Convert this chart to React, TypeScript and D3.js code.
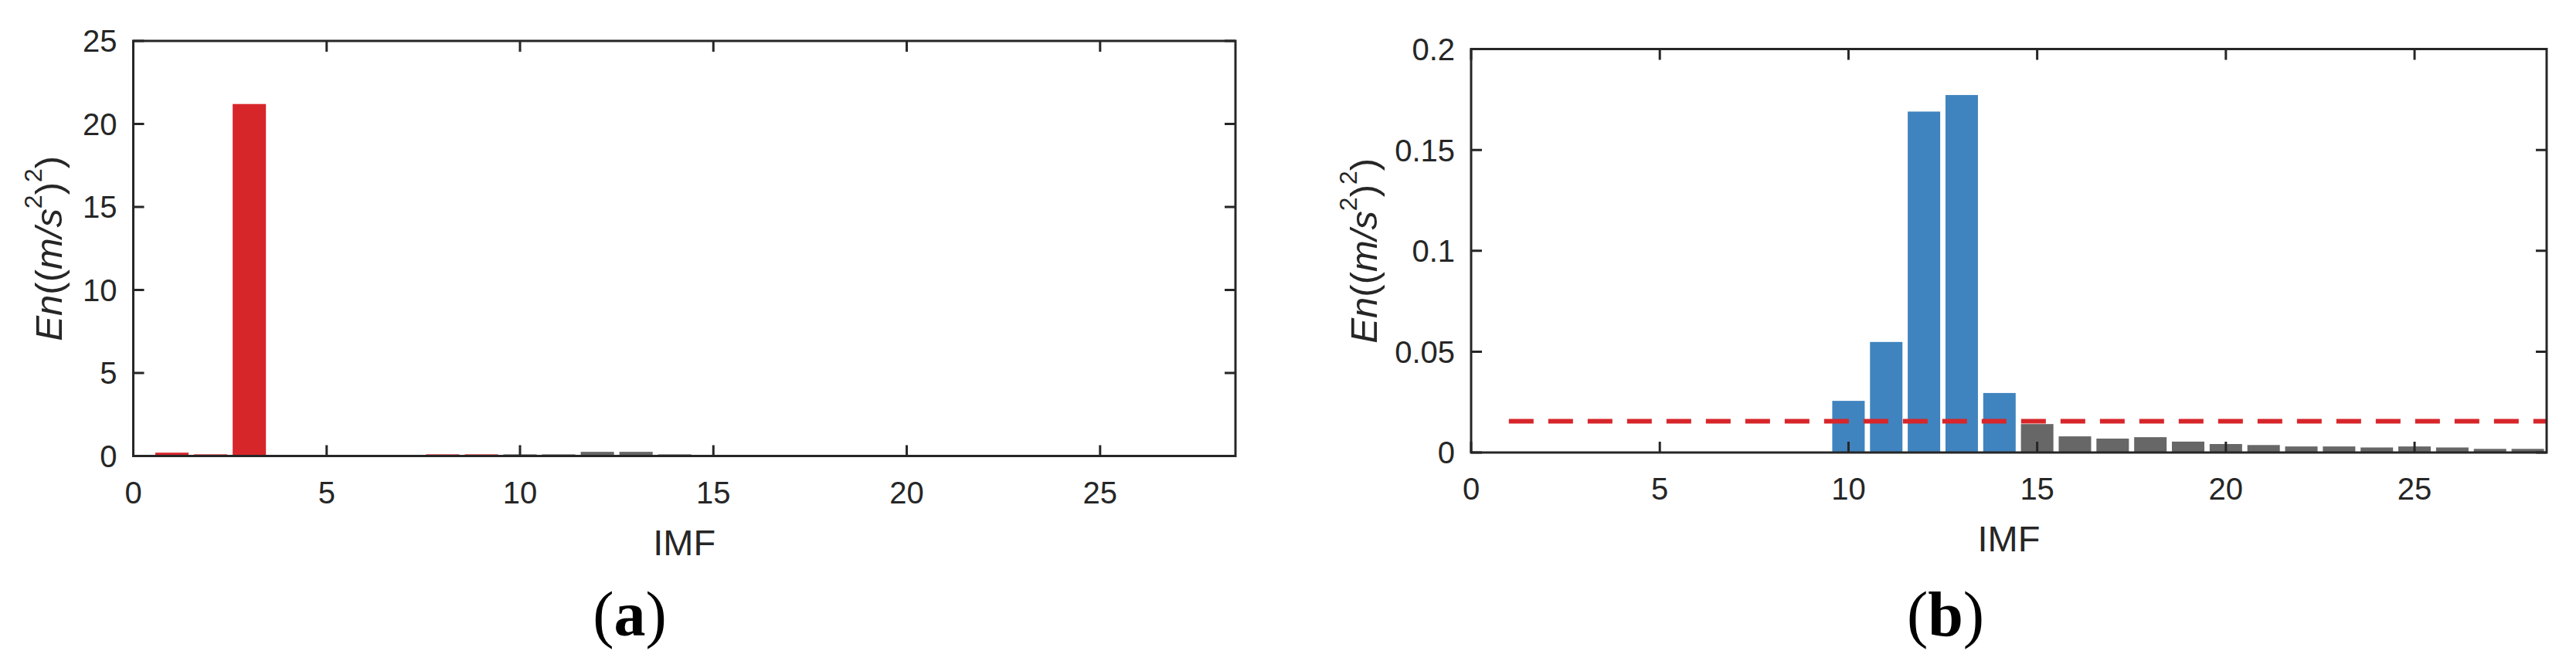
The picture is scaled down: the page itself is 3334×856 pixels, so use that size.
import React, { useEffect, useRef } from "react";
import * as d3 from "d3";

// IMF index 1..28
const imfs = [1, 2, 3, 4, 5, 6, 7, 8, 9, 10, 11, 12, 13, 14, 15, 16, 17, 18, 19, 20, 21, 22, 23, 24, 25, 26, 27, 28];

// panel (a) energy
const energyA = [0.2, 0.1, 21.2, 0, 0, 0, 0, 0.1, 0.1, 0.1, 0.1, 0.25, 0.25, 0.1, 0, 0, 0, 0, 0, 0, 0, 0, 0, 0, 0, 0, 0, 0];
const selectedA = [1, 2, 3, 4, 5, 6, 7, 8, 9];
const yTicksA = [0, 5, 10, 15, 20, 25];

// panel (b) energy
const energyB = [0, 0, 0, 0, 0, 0, 0, 0, 0, 0.0256, 0.0548, 0.169, 0.1772, 0.0295, 0.0141, 0.008, 0.0069, 0.0076, 0.0054, 0.0042, 0.0037, 0.003, 0.003, 0.0025, 0.003, 0.0025, 0.0018, 0.0018];
const selectedB = [10, 11, 12, 13, 14];
const yTicksB = [0, 0.05, 0.1, 0.15, 0.2];
const thresholdB = 0.0155;

const xTicks = [0, 5, 10, 15, 20, 25];

const INK = "#262626";
const GRAY = "#676767";
const SANS = "'Liberation Sans', Arial, Helvetica, sans-serif";

const App = () => {
  const chart = useRef<SVGSVGElement>(null);

  useEffect(() => {
    const svg = d3.select(chart.current);
    svg.selectAll("*").remove();

    const drawPanel = (opts: any) => {
      const { left, right, top, bottom, values, selected, color, yMax, yTicks, caption, captionX, threshold, titleX } = opts;
      const g = svg.append("g");

      const x = d3.scaleLinear().domain([0, 28.5]).range([left, right]);
      const y = d3.scaleLinear().domain([0, yMax]).range([bottom, top]);
      const bw = (x(1) - x(0)) * 0.86;

      // bars
      g.append("g")
        .selectAll("rect")
        .data(imfs)
        .join("rect")
        .attr("x", (d) => x(d) - bw / 2)
        .attr("y", (d, i) => y(values[i]))
        .attr("width", bw)
        .attr("height", (d, i) => y(0) - y(values[i]))
        .attr("fill", (d) => (selected.includes(d) ? color : GRAY));

      // threshold line
      if (threshold !== undefined) {
        g.append("line")
          .attr("x1", x(1))
          .attr("x2", right)
          .attr("y1", y(threshold))
          .attr("y2", y(threshold))
          .attr("stroke", "#D7262A")
          .attr("stroke-width", 6)
          .attr("stroke-dasharray", "32 19");
      }

      // box
      g.append("rect")
        .attr("x", left)
        .attr("y", top)
        .attr("width", right - left)
        .attr("height", bottom - top)
        .attr("fill", "none")
        .attr("stroke", INK)
        .attr("stroke-width", 3);

      // inner ticks on all sides
      const tl = 14;
      g.append("g")
        .selectAll("path")
        .data(xTicks)
        .join("path")
        .attr("d", (d) => `M${x(d)},${bottom}v${-tl}M${x(d)},${top}v${tl}`)
        .attr("stroke", INK)
        .attr("stroke-width", 3);
      g.append("g")
        .selectAll("path")
        .data(yTicks)
        .join("path")
        .attr("d", (d) => `M${left},${y(d)}h${tl}M${right},${y(d)}h${-tl}`)
        .attr("stroke", INK)
        .attr("stroke-width", 3);

      // tick labels
      g.append("g")
        .selectAll("text")
        .data(xTicks)
        .join("text")
        .attr("x", (d) => x(d))
        .attr("y", bottom + 61)
        .attr("text-anchor", "middle")
        .attr("font-family", SANS)
        .attr("font-size", 40)
        .attr("fill", INK)
        .text((d) => d);
      g.append("g")
        .selectAll("text")
        .data(yTicks)
        .join("text")
        .attr("x", left - 21)
        .attr("y", (d) => y(d))
        .attr("dy", "0.36em")
        .attr("text-anchor", "end")
        .attr("font-family", SANS)
        .attr("font-size", 40)
        .attr("fill", INK)
        .text((d) => d);

      // x label
      g.append("text")
        .attr("x", (left + right) / 2)
        .attr("y", bottom + 128)
        .attr("text-anchor", "middle")
        .attr("font-family", SANS)
        .attr("font-size", 47)
        .attr("fill", INK)
        .text("IMF");

      // y label
      const yl = g
        .append("text")
        .attr("transform", `translate(${titleX},${(top + bottom) / 2}) rotate(-90)`)
        .attr("text-anchor", "middle")
        .attr("font-family", SANS)
        .attr("font-size", 49)
        .attr("fill", INK);
      yl.append("tspan").attr("font-style", "italic").text("En");
      yl.append("tspan").text("((");
      yl.append("tspan").attr("font-style", "italic").text("m/s");
      yl.append("tspan").attr("font-size", 32).attr("dy", -26).text("2");
      yl.append("tspan").attr("dy", 26).text(")");
      yl.append("tspan").attr("font-size", 32).attr("dy", -26).text("2");
      yl.append("tspan").attr("dy", 26).text(")");

      // caption
      const cap = svg
        .append("text")
        .attr("x", captionX)
        .attr("y", 823)
        .attr("text-anchor", "middle")
        .attr("font-family", "'Liberation Serif', 'Times New Roman', serif")
        .attr("font-size", 82)
        .attr("fill", "#000");
      cap.append("tspan").text("(");
      cap.append("tspan").attr("font-weight", "bold").text(caption);
      cap.append("tspan").text(")");
    };

    drawPanel({
      left: 172.5, right: 1599, top: 53, bottom: 590.5,
      values: energyA, selected: selectedA, color: "#D7262A",
      yMax: 25, yTicks: yTicksA, caption: "a", captionX: 815, titleX: 80,
    });
    drawPanel({
      left: 1904, right: 3296, top: 63.5, bottom: 586,
      values: energyB, selected: selectedB, color: "#3F84BF",
      yMax: 0.2, yTicks: yTicksB, caption: "b", captionX: 2518, titleX: 1782,
      threshold: thresholdB,
    });
  }, []);

  return (
    <div style={{ position: "absolute", left: 0, top: 0 }}>
      <svg ref={chart} width={3334} height={856} style={{ display: "block", background: "#fff" }}></svg>
    </div>
  );
};

export default App;
